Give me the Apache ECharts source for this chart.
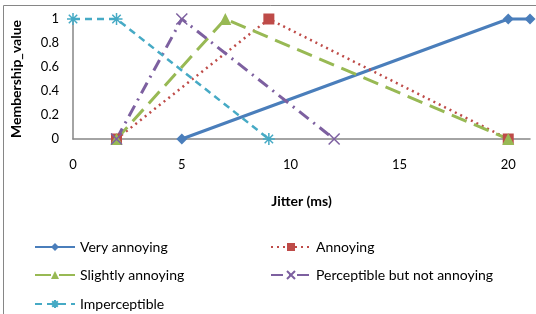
<!DOCTYPE html>
<html>
<head>
<meta charset="utf-8">
<script src="https://cdn.jsdelivr.net/npm/echarts@6/dist/echarts.min.js"></script>
<style>
  html, body { margin: 0; padding: 0; background: #fff; }
  #main { width: 536px; height: 314px; }
</style>
</head>
<body>
<div id="main"></div>
<script>
// series names
var seriesNames = ['Very annoying', 'Annoying', 'Slightly annoying', 'Perceptible but not annoying', 'Imperceptible'];
// [jitter, membership] points per series
var veryAnnoying = [[5, 0], [20, 1], [21, 1]];
var annoying = [[2, 0], [9, 1], [20, 0]];
var slightlyAnnoying = [[2, 0], [7, 1], [20, 0]];
var perceptible = [[2, 0], [5, 1], [12, 0]];
var imperceptible = [[0, 1], [2, 1], [9, 0]];

var xTicks = [0, 5, 10, 15, 20];
var yTicks = [0, 0.2, 0.4, 0.6, 0.8, 1];

var font = 'Lato, "Open Sans", sans-serif';
var crossPath = 'path://M0,0L10,10M10,0L0,10';
var starPath = 'path://M5,0L5,10M0,5L10,5M1.5,1.5L8.5,8.5M8.5,1.5L1.5,8.5';

var chart = echarts.init(document.getElementById('main'));

function mkSeries(name, data, color, type, width, symbol, size, hollow) {
  return {
    name: name,
    type: 'line',
    data: data,
    symbol: symbol,
    symbolSize: size,
    showAllSymbol: true,
    clip: false,
    lineStyle: { color: color, width: width, type: type },
    itemStyle: hollow ? { color: 'rgba(0,0,0,0)', borderColor: color, borderWidth: 1.5 } : { color: color },
    emphasis: { disabled: true },
    animation: false
  };
}

function legendAt(name, left, top) {
  return {
    data: [name],
    left: left,
    top: top,
    itemWidth: 40,
    itemHeight: 10,
    itemGap: 6,
    textStyle: { fontFamily: font, fontSize: 14, color: '#000' },
    selectedMode: false
  };
}

var option = {
  backgroundColor: '#fff',
  animation: false,
  graphic: [{
    type: 'rect',
    shape: { x: 3.5, y: 5.5, width: 540, height: 320 },
    style: { fill: 'none', stroke: '#868686', lineWidth: 1 },
    silent: true
  }],
  grid: { left: 73, right: 6, top: 19, bottom: 175 },
  xAxis: {
    type: 'value',
    min: 0,
    max: 21,
    interval: 5,
    name: 'Jitter (ms)',
    nameLocation: 'middle',
    nameGap: 55,
    nameTextStyle: { fontFamily: font, fontSize: 14, fontWeight: 'bold', color: '#000' },
    axisLine: { lineStyle: { color: '#868686', width: 1.5 } },
    axisTick: { show: false },
    splitLine: { show: false },
    axisLabel: {
      fontFamily: font, fontSize: 13, color: '#000', margin: 19,
      showMaxLabel: false,
      formatter: function (v) { return xTicks.indexOf(v) >= 0 ? String(v) : ''; }
    }
  },
  yAxis: {
    type: 'value',
    min: 0,
    max: 1,
    interval: 0.2,
    name: 'Membership_value',
    nameLocation: 'middle',
    nameGap: 50,
    nameTextStyle: { fontFamily: font, fontSize: 14, fontWeight: 'bold', color: '#000' },
    axisLine: { show: true, lineStyle: { color: '#868686', width: 1.5 } },
    axisTick: { show: false },
    splitLine: { show: false },
    axisLabel: {
      fontFamily: font, fontSize: 13, color: '#000', margin: 14,
      formatter: function (v) {
        var r = Math.round(v * 10) / 10;
        return yTicks.indexOf(r) >= 0 ? String(r) : '';
      }
    }
  },
  legend: [
    legendAt(seriesNames[0], 29, 235),
    legendAt(seriesNames[1], 265, 235),
    legendAt(seriesNames[2], 29, 263),
    legendAt(seriesNames[3], 265, 263),
    legendAt(seriesNames[4], 29, 292)
  ],
  series: [
    mkSeries(seriesNames[0], veryAnnoying, '#4a7ebb', 'solid', 3, 'diamond', 11, false),
    mkSeries(seriesNames[1], annoying, '#be4b48', [2, 4], 2.5, 'rect', 11, false),
    mkSeries(seriesNames[2], slightlyAnnoying, '#98b954', [16, 8], 3, 'triangle', 12, false),
    mkSeries(seriesNames[3], perceptible, '#7d60a0', [12, 6, 2, 6], 3, crossPath, 11, true),
    mkSeries(seriesNames[4], imperceptible, '#46aac5', [7, 5], 2.5, starPath, 12, true)
  ]
};

chart.setOption(option);
</script>
</body>
</html>
